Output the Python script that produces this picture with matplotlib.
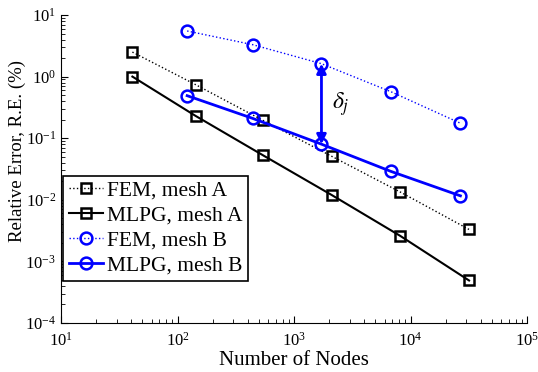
import matplotlib
matplotlib.use("Agg")
from matplotlib import pyplot as plt

plt.rcParams['font.family'] = ['Liberation Serif', 'DejaVu Serif']
plt.rcParams['mathtext.fontset'] = 'stix'

# data
nodes_a = [41, 143, 540, 2100, 8150, 31800]
fem_a = [2.5, 0.74, 0.195, 0.051, 0.0134, 0.0033]
mlpg_a = [1.0, 0.23, 0.053, 0.012, 0.0026, 0.00049]

nodes_b = [121, 441, 1720, 6760, 26800]
fem_b = [5.5, 3.3, 1.62, 0.57, 0.175]
mlpg_b = [0.49, 0.21, 0.08, 0.029, 0.0116]

fig = plt.figure(figsize=(5.38, 3.72), dpi=100)
ax = fig.add_axes([0.1134, 0.1317, 0.8662, 0.828])

ax.loglog(nodes_a, fem_a, ':', color='k', lw=1, marker='s', ms=7, mfc='none', mew=1.8, label='FEM, mesh A')
ax.loglog(nodes_a, mlpg_a, '-', color='k', lw=1.5, marker='s', ms=7, mfc='none', mew=1.8, label='MLPG, mesh A')
ax.loglog(nodes_b, fem_b, ':', color='b', lw=1, marker='o', ms=8.5, mfc='none', mew=1.8, label='FEM, mesh B')
ax.loglog(nodes_b, mlpg_b, '-', color='b', lw=2, marker='o', ms=8.5, mfc='none', mew=1.8, label='MLPG, mesh B')

# delta_j arrow between the two mesh B curves
ax.annotate('', xy=(nodes_b[2], fem_b[2]), xytext=(nodes_b[2], mlpg_b[2]),
            arrowprops=dict(arrowstyle='<|-|>', color='b', lw=2, mutation_scale=14, shrinkA=0, shrinkB=0))
ax.text(2100, 0.36, r'$\delta_j$', fontsize=17, va='center')

ax.set_xlim(10, 1e5)
ax.set_ylim(1e-4, 10)
ax.set_xlabel('Number of Nodes', fontsize=15, labelpad=1)
ax.set_ylabel('Relative Error, R.E. (%)', fontsize=13.5)
ax.yaxis.set_label_coords(-0.075, 0.56)

ax.spines['top'].set_visible(False)
ax.spines['right'].set_visible(False)
ax.tick_params(which='both', direction='in', labelsize=12)
ax.tick_params(axis='x', which='major', pad=6)
ax.tick_params(which='major', length=5)
ax.tick_params(which='minor', length=3)

leg = ax.legend(loc='lower left', fontsize=15.5, handlelength=1.6, handletextpad=0.2,
                borderaxespad=0.1, borderpad=0.25, labelspacing=0.22, fancybox=False,
                framealpha=1, edgecolor='k', bbox_to_anchor=(0.0, 0.13))
leg.get_frame().set_linewidth(1.2)

fig.savefig('out.png', dpi=100)
